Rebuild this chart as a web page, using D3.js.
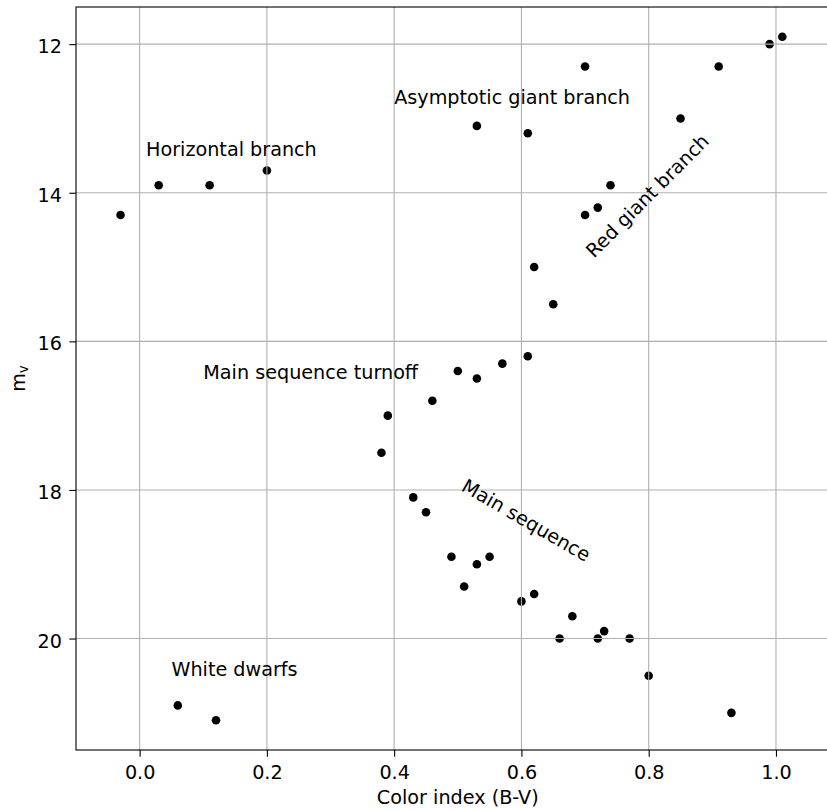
<!DOCTYPE html>
<html>
<head>
<meta charset="utf-8">
<script src="https://cdn.jsdelivr.net/npm/d3@7"></script>
<style>
  body { margin: 0; background: #fff; }
  svg { display: block; font-family: "DejaVu Sans", sans-serif; }
</style>
</head>
<body>
<svg id="chart"></svg>
<script>
// colour-magnitude points
var colorIndex = [-0.03, 0.03, 0.11, 0.20, 0.06, 0.12,
  0.53, 0.61, 0.70, 0.85, 0.91, 0.99, 1.01, 0.74, 0.72, 0.70, 0.62, 0.65,
  0.61, 0.57, 0.50, 0.53, 0.46, 0.39, 0.38,
  0.43, 0.45, 0.49, 0.53, 0.55, 0.51, 0.60, 0.62,
  0.68, 0.66, 0.72, 0.73, 0.77, 0.80, 0.93];
var magnitude = [14.3, 13.9, 13.9, 13.7, 20.9, 21.1,
  13.1, 13.2, 12.3, 13.0, 12.3, 12.0, 11.9, 13.9, 14.2, 14.3, 15.0, 15.5,
  16.2, 16.3, 16.4, 16.5, 16.8, 17.0, 17.5,
  18.1, 18.3, 18.9, 19.0, 18.9, 19.3, 19.5, 19.4,
  19.7, 20.0, 20.0, 19.9, 20.0, 20.5, 21.0];

var xTicks = [0, 0.2, 0.4, 0.6, 0.8, 1.0];
var yTicks = [12, 14, 16, 18, 20];

// annotations
var labelText = ["Horizontal branch", "Asymptotic giant branch", "White dwarfs",
  "Main sequence turnoff", "Main sequence", "Red giant branch"];
var labelX = [0.01, 0.40, 0.05, 0.10, 0.606, 0.80];
var labelY = [13.5, 12.8, 20.5, 16.5, 18.43, 14.06];
var labelAngle = [0, 0, 0, 0, 30, -45];

var width = 827, height = 810;
var fontSize = 19.2;
var margin = { top: 7, left: 76, bottom: 60 };
var plotRight = 839.6;
var plotBottom = height - margin.bottom;

var svg = d3.select("#chart")
  .attr("width", width)
  .attr("height", height);

var x = d3.scaleLinear()
  .domain([-0.1, 1.1])
  .range([margin.left, plotRight]);

var y = d3.scaleLinear()
  .domain([11.5, 21.5])
  .range([margin.top, plotBottom]);

var data = colorIndex.map(function(d, i){
  return { bv: d, mv: magnitude[i] };
});

// points (grid goes on top, as in the original)
svg.append("g").selectAll("circle")
  .data(data)
  .enter().append("circle")
  .attr("cx", function(d){ return x(d.bv); })
  .attr("cy", function(d){ return y(d.mv); })
  .attr("r", 4.3)
  .attr("fill", "#000");

var grid = svg.append("g").attr("stroke", "#b0b0b0").attr("stroke-width", 1.1);
grid.selectAll(".gx").data(xTicks).enter().append("line")
  .attr("x1", function(d){ return x(d); })
  .attr("x2", function(d){ return x(d); })
  .attr("y1", margin.top)
  .attr("y2", plotBottom);
grid.selectAll(".gy").data(yTicks).enter().append("line")
  .attr("x1", margin.left)
  .attr("x2", plotRight)
  .attr("y1", function(d){ return y(d); })
  .attr("y2", function(d){ return y(d); });

var xAxis = d3.axisBottom(x)
  .tickValues(xTicks)
  .tickFormat(d3.format(".1f"))
  .tickSize(6.7)
  .tickSizeOuter(0)
  .tickPadding(8.8);

var gx = svg.append("g")
  .attr("transform", "translate(0," + plotBottom + ")")
  .call(xAxis);

var yAxis = d3.axisLeft(y)
  .tickValues(yTicks)
  .tickSize(6.7)
  .tickSizeOuter(0)
  .tickPadding(7.3);

var gy = svg.append("g")
  .attr("transform", "translate(" + margin.left + ",0)")
  .call(yAxis);

[gx, gy].forEach(function(g){
  g.select(".domain").remove();
  g.selectAll(".tick line").attr("stroke", "#000").attr("stroke-width", 1.1);
  g.selectAll(".tick text")
    .attr("fill", "#000")
    .style("font-family", "DejaVu Sans")
    .style("font-size", fontSize + "px");
});
gy.selectAll(".tick text").attr("dy", "0.44em");

// spines
svg.append("rect")
  .attr("x", margin.left)
  .attr("y", margin.top)
  .attr("width", plotRight - margin.left)
  .attr("height", plotBottom - margin.top)
  .attr("fill", "none")
  .attr("stroke", "#000")
  .attr("stroke-width", 1.1);

// annotations
labelText.forEach(function(t, i){
  var px = x(labelX[i]), py = y(labelY[i]);
  var txt = svg.append("text")
    .attr("transform", "translate(" + px + "," + py + ") rotate(" + labelAngle[i] + ")")
    .style("font-size", fontSize + "px")
    .attr("fill", "#000")
    .text(t);
  if (labelAngle[i] !== 0) {
    txt.attr("text-anchor", "middle").attr("dy", "0.25em");
  }
});

// axis labels
svg.append("text")
  .attr("x", (margin.left + plotRight) / 2)
  .attr("y", 804)
  .attr("text-anchor", "middle")
  .style("font-size", fontSize + "px")
  .text("Color index (B-V)");

var yl = svg.append("text")
  .attr("transform", "translate(25," + ((margin.top + plotBottom) / 2) + ") rotate(-90)")
  .attr("text-anchor", "middle")
  .style("font-size", fontSize + "px");
yl.append("tspan").text("m");
yl.append("tspan")
  .attr("dy", "0.2em")
  .style("font-size", (fontSize * 0.7) + "px")
  .text("v");
</script>
</body>
</html>
